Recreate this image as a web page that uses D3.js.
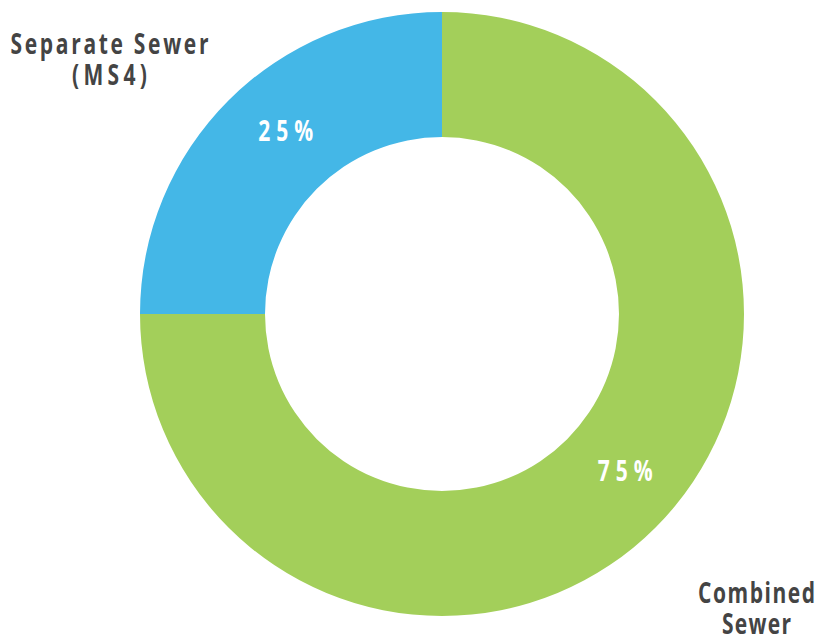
<!DOCTYPE html>
<html>
<head>
<meta charset="utf-8">
<script src="https://cdn.jsdelivr.net/npm/d3@7"></script>
<style>
  html, body { margin: 0; padding: 0; background: #fff; }
  svg { display: block; }
</style>
</head>
<body>
<svg id="chart" width="822" height="636"></svg>
<script>
// ---- data ----
const categories = ["Separate Sewer (MS4)", "Combined Sewer"];
const values = [25, 75];
const valueLabels = ["25%", "75%"];
const categoryLines = [["Separate Sewer", "(MS4)"], ["Combined", "Sewer"]];
const colors = ["#44b7e7", "#a3cf5a"];

// ---- layout ----
const W = 822, H = 636;
const cx = 442, cy = 314;
const outerR = 302, innerR = 177;
const sx = 0.75; // horizontal condensing of the bold face

const svg = d3.select("#chart");
const g = svg.append("g").attr("transform", `translate(${cx},${cy})`);

const pie = d3.pie().sort(null).startAngle(-Math.PI / 2).endAngle(Math.PI * 3 / 2);
const arcs = pie(values);

const arc = d3.arc().innerRadius(innerR).outerRadius(outerR);

g.selectAll("path.slice")
  .data(arcs)
  .join("path")
  .attr("class", "slice")
  .attr("d", arc)
  .attr("fill", (d, i) => colors[i]);

// value labels placed around the ring
const labelR = 241;
const angleShift = [0.08, -0.078];
arcs.forEach((d, i) => {
  const a = (d.startAngle + d.endAngle) / 2 + angleShift[i];
  const x = labelR * Math.sin(a);
  const y = -labelR * Math.cos(a);
  g.append("text")
    .attr("transform", `translate(${x},${y + 10}) scale(${sx},1)`)
    .attr("text-anchor", "middle")
    .attr("fill", "#ffffff")
    .attr("font-family", "'Open Sans', sans-serif")
    .attr("font-weight", 700)
    .attr("font-size", 28)
    .attr("textLength", 55 / sx)
    .attr("lengthAdjust", "spacing")
    .text(valueLabels[i]);
});

// category labels
const catPos = [[109.5, 54], [756.5, 603]];
const catWidths = [[198, 75], [117, 69]];
categoryLines.forEach((lines, i) => {
  lines.forEach((ln, j) => {
    svg.append("text")
      .attr("transform", `translate(${catPos[i][0]},${catPos[i][1] + j * 31}) scale(${sx},1)`)
      .attr("text-anchor", "middle")
      .attr("fill", "#444444")
      .attr("font-family", "'Open Sans', sans-serif")
      .attr("font-weight", 700)
      .attr("font-size", 28)
      .attr("textLength", catWidths[i][j] / sx)
      .attr("lengthAdjust", "spacing")
      .text(ln);
  });
});
</script>
</body>
</html>
